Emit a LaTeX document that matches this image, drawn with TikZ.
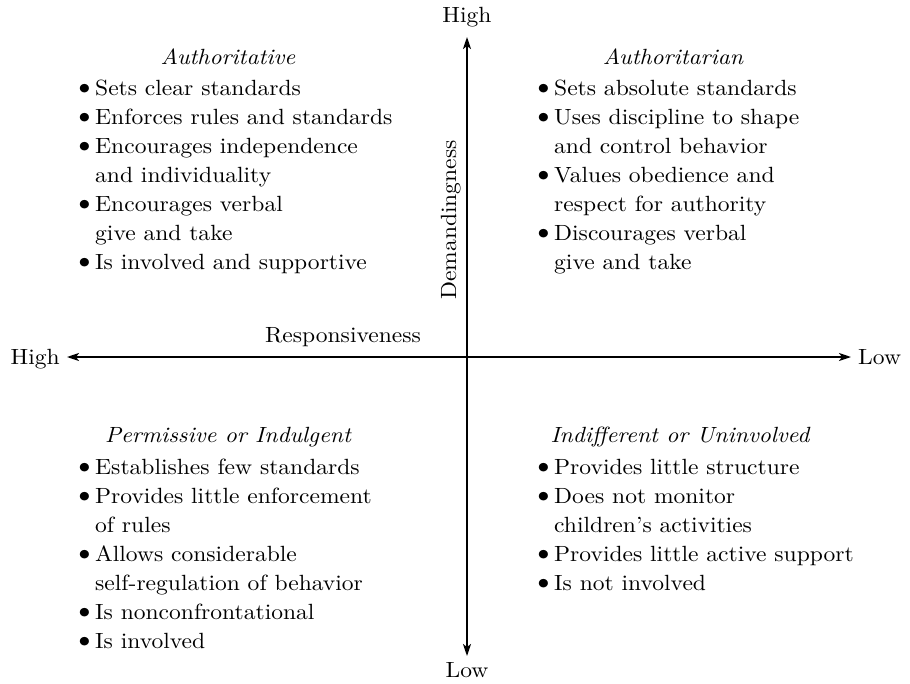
\documentclass[tikz,border=0pt]{standalone}
\usepackage{fontspec}
\setmainfont{lmroman10-regular.otf}[FakeStretch=1.07, ItalicFont=lmroman10-italic.otf, BoldFont=lmroman10-bold.otf]
\usetikzlibrary{arrows.meta}
\newcommand\bul{\makebox[17pt][l]{\hspace*{-6pt}\raisebox{-0.02em}{\scalebox{1.35}{\textbullet}}}}
\newcommand\ind{\hspace*{17pt}}
\begin{document}
\begin{tikzpicture}[x=1pt,y=-1pt,
  every node/.style={font=\fontsize{22}{29}\selectfont},
  list/.style={anchor=base west, align=left, inner sep=0pt},
  qtitle/.style={anchor=base, inner sep=0pt, font=\fontsize{22}{29}\selectfont\itshape},
  axislabel/.style={inner sep=0pt},
  axis/.style={line width=1.8pt, {Stealth[length=12pt,width=8pt,inset=3pt]}-{Stealth[length=12pt,width=8pt,inset=3pt]}}]
\useasboundingbox (0,0) rectangle (910,683);
\fill[white] (0,0) rectangle (910,683);

% axes
\coordinate (xl) at (67,357);
\coordinate (xr) at (851,357);
\coordinate (yt) at (467,37);
\coordinate (yb) at (467,656);
\draw[axis] (xl) -- (xr);
\draw[axis] (yt) -- (yb);

\node[axislabel, anchor=base east] (hhigh) at (60,364) {High};
\node[axislabel, anchor=base west] (hlow) at (858,364) {Low};
\node[axislabel, anchor=base] (vhigh) at (467,22) {High};
\node[axislabel, anchor=base] (vlow) at (467,677) {Low};
\node[axislabel, rotate=90, anchor=base] (dem) at (456,220) {Demandingness};
\node[axislabel, anchor=base] (resp) at (343,342) {Responsiveness};

% top left
\node[qtitle] (t1) at (228,64) {Authoritative};
\node[list] (l1) at (78,269) {\bul Sets clear standards\\
\bul Enforces rules and standards\\
\bul Encourages independence\\
\ind and individuality\\
\bul Encourages verbal\\
\ind give and take\\
\bul Is involved and supportive};

% top right
\node[qtitle] (t2) at (673,64) {Authoritarian};
\node[list] (l2) at (537,269) {\bul Sets absolute standards\\
\bul Uses discipline to shape\\
\ind and control behavior\\
\bul Values obedience and\\
\ind respect for authority\\
\bul Discourages verbal\\
\ind give and take};

% bottom left
\node[qtitle] (t3) at (228,442) {Permissive or Indulgent};
\node[list] (l3) at (78,648) {\bul Establishes few standards\\
\bul Provides little enforcement\\
\ind of rules\\
\bul Allows considerable\\
\ind self-regulation of behavior\\
\bul Is nonconfrontational\\
\bul Is involved};

% bottom right
\node[qtitle] (t4) at (680,442) {Indifferent or Uninvolved};
\node[list] (l4) at (537,590) {\bul Provides little structure\\
\bul Does not monitor\\
\ind children's activities\\
\bul Provides little active support\\
\bul Is not involved};
\end{tikzpicture}
\end{document}
